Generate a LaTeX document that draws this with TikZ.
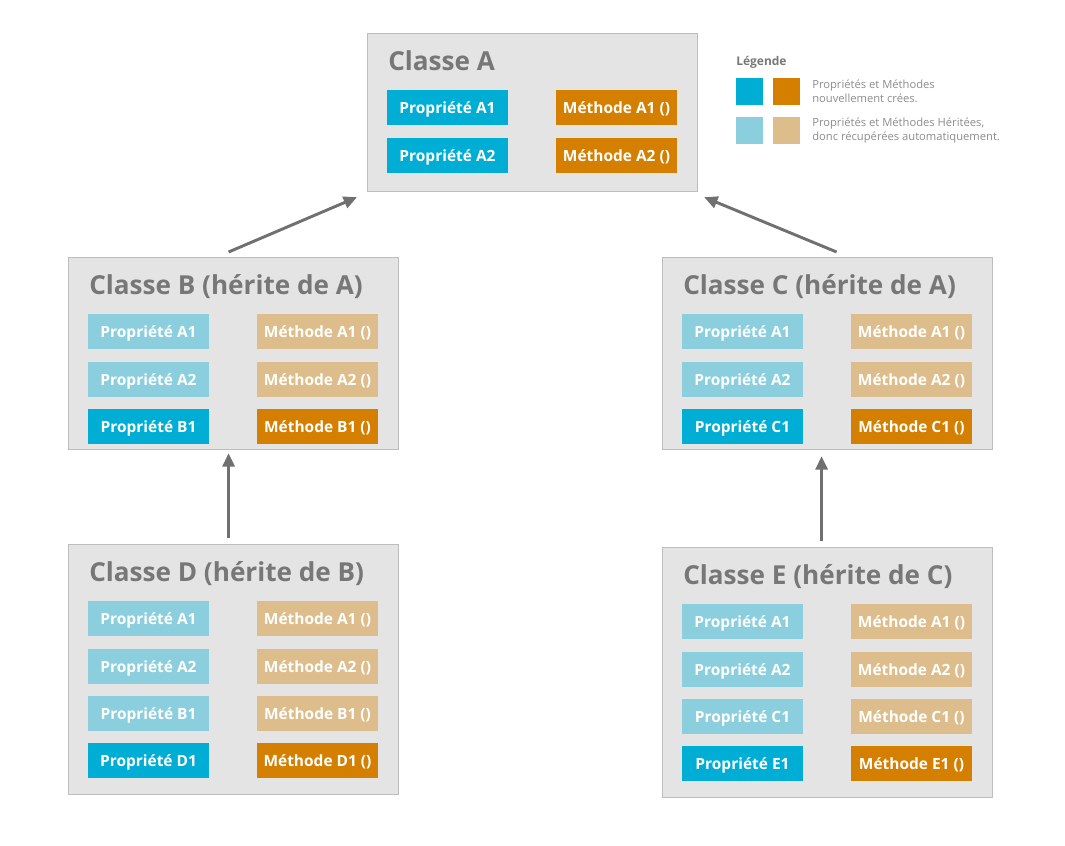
\documentclass[tikz,border=0pt]{standalone}
\usepackage{fontspec}
\setmainfont{Open Sans}
\usetikzlibrary{arrows.meta}

\definecolor{fondclasse}{HTML}{E4E4E4}
\definecolor{bordclasse}{HTML}{BDBDBD}
\definecolor{grisTitre}{HTML}{777777}
\definecolor{grisFleche}{HTML}{707070}
\definecolor{grisLegende}{HTML}{8C8C8C}
\definecolor{propNouv}{HTML}{00AED5}
\definecolor{methNouv}{HTML}{D47F00}
\definecolor{propHer}{HTML}{8BCFDE}
\definecolor{methHer}{HTML}{DDBD8B}

\tikzset{
  classe/.style={draw=bordclasse, fill=fondclasse, line width=0.9pt,
    minimum width=247.5pt, anchor=north west, inner sep=0pt},
  titre/.style={anchor=west, text=grisTitre, inner sep=0pt,
    text height=13.8pt, text depth=0pt,
    font=\bfseries\fontsize{19.6}{22}\selectfont},
  membre/.style={minimum width=90.75pt, minimum height=26.25pt, inner sep=0pt,
    text height=8.3pt, text depth=0pt, text=white,
    font=\bfseries\fontsize{11.6}{13}\selectfont},
  pnouv/.style={membre, fill=propNouv},
  mnouv/.style={membre, fill=methNouv},
  pher/.style={membre, fill=propHer},
  mher/.style={membre, fill=methHer},
  carre/.style={minimum size=20.25pt, inner sep=0pt, anchor=north west},
  herite/.style={draw=grisFleche, line width=2.2pt,
    -{Triangle[length=10pt,width=9pt]}},
}

\begin{document}
\begin{tikzpicture}[x=0.75pt,y=-0.75pt]
  \useasboundingbox (0,0) rectangle (1065,846);

  % classe A
  \node[classe, minimum height=118.5pt] (A) at (367,33) {};
  \node[titre] (tA) at (388,61) {Classe A};
  \node[pnouv] (A-p1) at (447.5,107.5) {Propriété A1};
  \node[pnouv] (A-p2) at (447.5,155.5) {Propriété A2};
  \node[mnouv] (A-m1) at (616.5,107.5) {Méthode A1 ()};
  \node[mnouv] (A-m2) at (616.5,155.5) {Méthode A2 ()};

  % classe B
  \node[classe, minimum height=144pt] (B) at (68,257) {};
  \node[titre] (tB) at (89,285) {Classe B (hérite de A)};
  \node[pher] (B-p1) at (148.5,331.5) {Propriété A1};
  \node[pher] (B-p2) at (148.5,379.5) {Propriété A2};
  \node[pnouv] (B-p3) at (148.5,426.5) {Propriété B1};
  \node[mher] (B-m1) at (317.5,331.5) {Méthode A1 ()};
  \node[mher] (B-m2) at (317.5,379.5) {Méthode A2 ()};
  \node[mnouv] (B-m3) at (317.5,426.5) {Méthode B1 ()};

  % classe C
  \node[classe, minimum height=144pt] (C) at (662,257) {};
  \node[titre] (tC) at (683,285) {Classe C (hérite de A)};
  \node[pher] (C-p1) at (742.5,331.5) {Propriété A1};
  \node[pher] (C-p2) at (742.5,379.5) {Propriété A2};
  \node[pnouv] (C-p3) at (742.5,426.5) {Propriété C1};
  \node[mher] (C-m1) at (911.5,331.5) {Méthode A1 ()};
  \node[mher] (C-m2) at (911.5,379.5) {Méthode A2 ()};
  \node[mnouv] (C-m3) at (911.5,426.5) {Méthode C1 ()};

  % classe D
  \node[classe, minimum height=187.5pt] (D) at (68,544) {};
  \node[titre] (tD) at (89,572) {Classe D (hérite de B)};
  \node[pher] (D-p1) at (148.5,618.5) {Propriété A1};
  \node[pher] (D-p2) at (148.5,666.5) {Propriété A2};
  \node[pher] (D-p3) at (148.5,713.5) {Propriété B1};
  \node[pnouv] (D-p4) at (148.5,760.5) {Propriété D1};
  \node[mher] (D-m1) at (317.5,618.5) {Méthode A1 ()};
  \node[mher] (D-m2) at (317.5,666.5) {Méthode A2 ()};
  \node[mher] (D-m3) at (317.5,713.5) {Méthode B1 ()};
  \node[mnouv] (D-m4) at (317.5,760.5) {Méthode D1 ()};

  % classe E
  \node[classe, minimum height=187.5pt] (E) at (662,547) {};
  \node[titre] (tE) at (683,575) {Classe E (hérite de C)};
  \node[pher] (E-p1) at (742.5,621.5) {Propriété A1};
  \node[pher] (E-p2) at (742.5,669.5) {Propriété A2};
  \node[pher] (E-p3) at (742.5,716.5) {Propriété C1};
  \node[pnouv] (E-p4) at (742.5,763.5) {Propriété E1};
  \node[mher] (E-m1) at (911.5,621.5) {Méthode A1 ()};
  \node[mher] (E-m2) at (911.5,669.5) {Méthode A2 ()};
  \node[mher] (E-m3) at (911.5,716.5) {Méthode C1 ()};
  \node[mnouv] (E-m4) at (911.5,763.5) {Méthode E1 ()};

  % heritage
  \draw[herite] ([shift={(-5,-5)}]B.north) -- ([shift={(-10,5)}]A.south west);
  \draw[herite] ([shift={(9,-5)}]C.north) -- ([shift={(6,5)}]A.south east);
  \draw[herite] ([shift={(-5,-6)}]D.north) -- ([shift={(-5,3)}]B.south);
  \draw[herite] ([shift={(-6,-6)}]E.north) -- ([shift={(-6,6)}]C.south);

  % legende
  \node[anchor=west, inner sep=0pt, text=grisTitre,
    font=\bfseries\fontsize{9}{11}\selectfont] (leg) at (736,62) {Légende};
  \node[carre, fill=propNouv] (lp1) at (736,78) {};
  \node[carre, fill=methNouv] (lm1) at (773,78) {};
  \node[carre, fill=propHer] (lp2) at (736,117) {};
  \node[carre, fill=methHer] (lm2) at (773,117) {};
  \node[anchor=west, inner sep=0pt, text=grisLegende, align=left,
    font=\fontsize{8.4}{10.5}\selectfont] (lt1) at (812,91.5)
    {Propriétés et Méthodes\\nouvellement crées.};
  \node[anchor=west, inner sep=0pt, text=grisLegende, align=left,
    font=\fontsize{8.4}{10.5}\selectfont] (lt2) at (812,130.5)
    {Propriétés et Méthodes Héritées,\\donc récupérées automatiquement.};
\end{tikzpicture}
\end{document}
